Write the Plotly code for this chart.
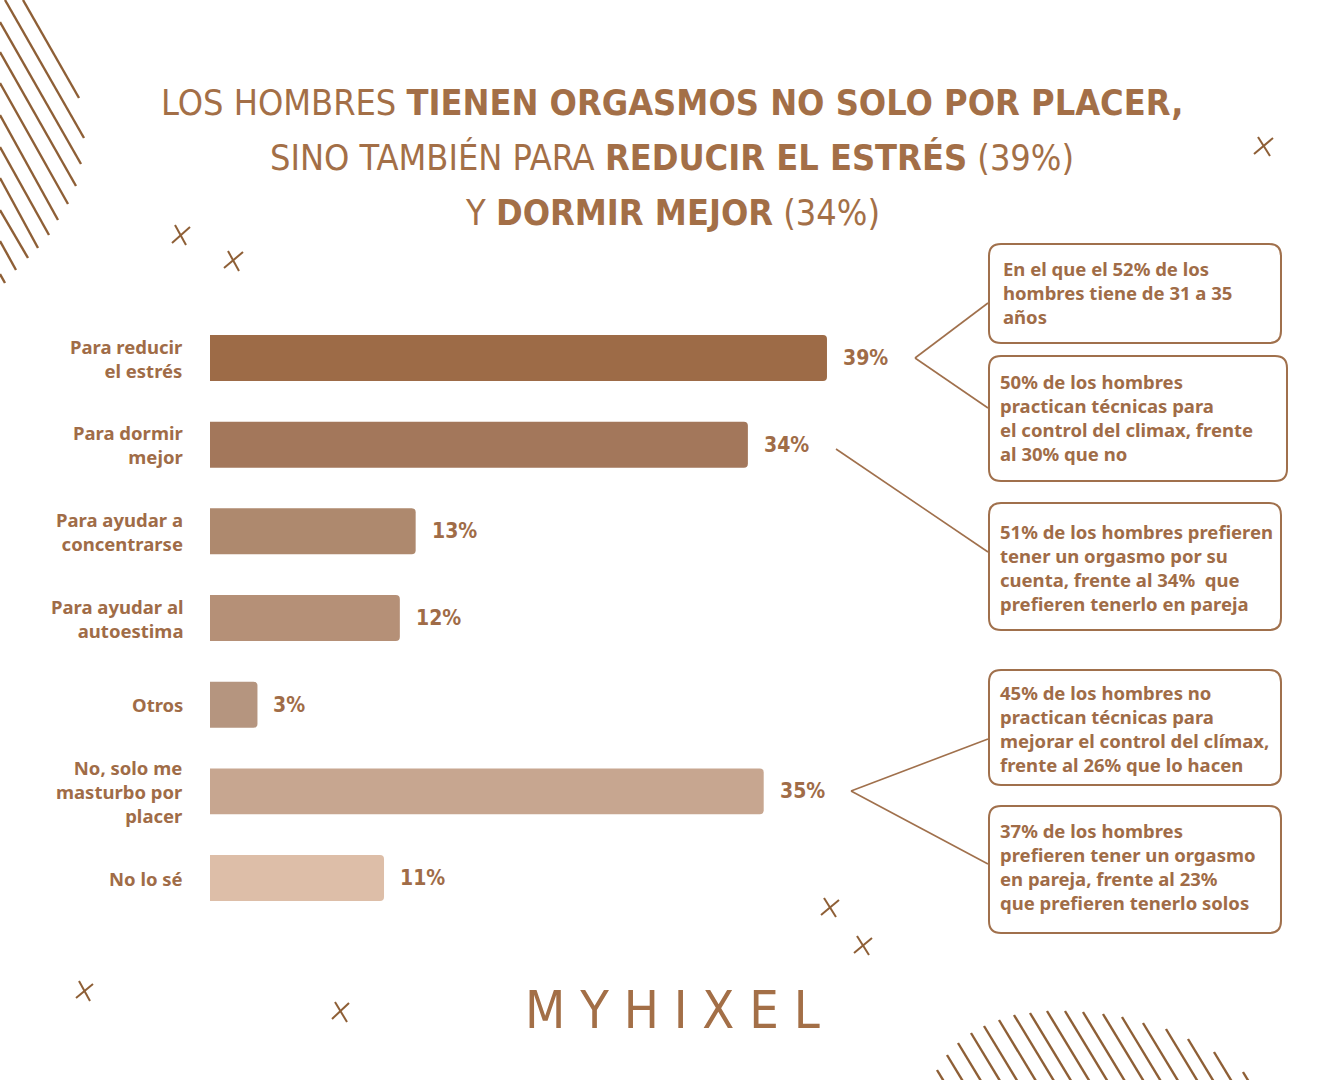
import plotly.graph_objects as go

W, H = 1343, 1080

# ---------------- data ----------------
categories = [
    "Para reducir<br>el estrés",
    "Para dormir<br>mejor",
    "Para ayudar a<br>concentrarse",
    "Para ayudar al<br>autoestima",
    "Otros",
    "No, solo me<br>masturbo por<br>placer",
    "No lo sé",
]
values = [39, 34, 13, 12, 3, 35, 11]
value_labels = ["39%", "34%", "13%", "12%", "3%", "35%", "11%"]
bar_colors = ["#9D6B47", "#A3775B", "#AE896E", "#B59077", "#B5957F", "#C7A690", "#DDBEA8"]

box_texts = [
    "En el que el 52% de los<br>hombres tiene de 31 a 35<br>años",
    "50% de los hombres<br>practican técnicas para<br>el control del climax, frente<br>al 30% que no",
    "51% de los hombres prefieren<br>tener un orgasmo por su<br>cuenta, frente al 34%  que<br>prefieren tenerlo en pareja",
    "45% de los hombres no<br>practican técnicas para<br>mejorar el control del clímax,<br>frente al 26% que lo hacen",
    "37% de los hombres<br>prefieren tener un orgasmo<br>en pareja, frente al 23%<br>que prefieren tenerlo solos",
]

title_lines = [
    "LOS HOMBRES <b>TIENEN ORGASMOS NO SOLO POR PLACER,</b>",
    "SINO TAMBIÉN PARA <b>REDUCIR EL ESTRÉS</b> (39%)",
    "Y <b>DORMIR MEJOR</b> (34%)",
]
brand = "M Y H I X E L"

# ---------------- style ----------------
TXT = "#A06C47"
LINE = "#A0704C"
DECO = "#8E5F36"
COND = "DejaVu Sans Condensed, Liberation Sans Narrow, sans-serif"
BODY = "Noto Sans, Roboto, sans-serif"


def px(x):
    return x / W


def py(y):
    return 1 - y / H


# scale: bars start at 210px, 15.82 px per percentage point
X0, SCALE = 210, 15.82
Y0, STEP = 358, 86.67
xrange = [-X0 / SCALE, (W - X0) / SCALE]
yrange = [(H - Y0) / STEP, -Y0 / STEP]

ypos = list(range(len(categories)))

fig = go.Figure()
fig.add_trace(go.Bar(
    x=values, y=ypos, orientation="h",
    marker=dict(color=bar_colors, line=dict(width=0)),
    width=0.53, hoverinfo="skip",
))

annotations = []
shapes = []

# category labels
for i, c in enumerate(categories):
    annotations.append(dict(
        x=px(185), xref="paper", y=i, yref="y", text=c, showarrow=False,
        xanchor="right", yanchor="middle", align="right",
        font=dict(family=BODY, size=18.5, color=TXT, weight="bold"),
    ))

# value labels
for i, (v, t) in enumerate(zip(values, value_labels)):
    annotations.append(dict(
        x=v, xref="x", y=i, yref="y", text=t, showarrow=False,
        xanchor="left", yanchor="middle", xshift=14,
        font=dict(family=COND, size=21, color=TXT, weight="bold"),
    ))

# title
for t, yy in zip(title_lines, [102, 158, 213]):
    annotations.append(dict(
        x=px(672), y=py(yy), xref="paper", yref="paper", text=t, showarrow=False,
        xanchor="center", yanchor="middle",
        font=dict(family=COND, size=35.8, color="#A36F47"),
    ))

# brand
annotations.append(dict(
    x=px(672), y=py(1010), xref="paper", yref="paper", text=brand, showarrow=False,
    xanchor="center", yanchor="middle",
    font=dict(family=COND, size=52, color="#A36F47"),
))

# boxes
boxes = [
    (989, 244, 1281, 343, 1001, 292.5),
    (989, 356, 1287, 481, 998, 417.5),
    (989, 503, 1281, 630, 998, 567.5),
    (989, 670, 1281, 785, 998, 728.5),
    (989, 806, 1281, 933, 998, 866.5),
]


def rrect(x0, y0, x1, y1, r=12):
    pts = [
        ("M", (x0 + r, y0)), ("L", (x1 - r, y0)), ("Q", (x1, y0), (x1, y0 + r)),
        ("L", (x1, y1 - r)), ("Q", (x1, y1), (x1 - r, y1)),
        ("L", (x0 + r, y1)), ("Q", (x0, y1), (x0, y1 - r)),
        ("L", (x0, y0 + r)), ("Q", (x0, y0), (x0 + r, y0)),
    ]
    s = ""
    for p in pts:
        cmd = p[0]
        coords = " ".join(f"{px(a):.5f},{py(b):.5f}" for a, b in p[1:])
        s += f"{cmd} {coords} "
    return s + "Z"


for (x0, y0, x1, y1, tx, ty), t in zip(boxes, box_texts):
    shapes.append(dict(type="path", xref="paper", yref="paper", path=rrect(x0, y0, x1, y1),
                       line=dict(color=LINE, width=2), fillcolor="rgba(0,0,0,0)"))
    annotations.append(dict(
        x=px(tx), y=py(ty), xref="paper", yref="paper", text=t, showarrow=False,
        xanchor="left", yanchor="middle", align="left",
        font=dict(family=BODY, size=18.5, color=TXT, weight="bold"),
    ))

# connectors
connectors = [
    ((915, 358), (988, 303)), ((915, 358), (988, 408)),
    ((836, 449), (988, 552)),
    ((851, 791), (988, 739)), ((851, 791), (988, 864)),
]
for (a, b) in connectors:
    shapes.append(dict(type="line", xref="paper", yref="paper",
                       x0=px(a[0]), y0=py(a[1]), x1=px(b[0]), y1=py(b[1]),
                       line=dict(color=LINE, width=1.6)))

# decorative top-left lines
tl = [((23, 0), (79, 98)), ((5, 0), (84, 138)), ((0, 22), (81, 164)), ((0, 52), (76, 186)),
      ((0, 83), (68, 204)), ((0, 115), (58, 220)), ((0, 147), (49, 235)), ((0, 178), (38, 248)),
      ((0, 210), (28, 258)), ((0, 241), (16, 270)), ((0, 274), (5, 283))]
for (a, b) in tl:
    shapes.append(dict(type="line", xref="paper", yref="paper",
                       x0=px(a[0]), y0=py(a[1]), x1=px(b[0]), y1=py(b[1]),
                       line=dict(color=DECO, width=2.4)))

# decorative bottom-right hatch
tops = [(937, 1070), (947, 1055), (958, 1043), (971, 1033), (984, 1026), (999, 1020), (1014, 1015),
        (1030, 1013), (1047, 1011), (1065, 1011), (1083, 1012), (1103, 1014), (1122, 1017),
        (1143, 1023), (1166, 1029), (1188, 1039), (1214, 1052), (1243, 1072)]
for (xt, yt) in tops:
    xb = xt + (1082 - yt) / 1.65
    shapes.append(dict(type="line", xref="paper", yref="paper",
                       x0=px(xt), y0=py(yt), x1=px(xb), y1=py(1082),
                       line=dict(color=DECO, width=2.4)))

# decorative crosses
crosses = [
    [((172, 243), (190, 227)), ((175, 225), (186, 245))],
    [((224, 268), (243, 252)), ((228, 251), (239, 271))],
    [((1254, 154), (1273, 138)), ((1258, 137), (1270, 156))],
    [((76, 998), (93, 984)), ((79, 981), (90, 1001))],
    [((332, 1019), (349, 1003)), ((335, 1002), (347, 1022))],
    [((821, 915), (839, 900)), ((824, 898), (836, 917))],
    [((854, 953), (872, 938)), ((857, 936), (869, 955))],
]
for cr in crosses:
    for (a, b) in cr:
        shapes.append(dict(type="line", xref="paper", yref="paper",
                           x0=px(a[0]), y0=py(a[1]), x1=px(b[0]), y1=py(b[1]),
                           line=dict(color=DECO, width=2)))

fig.update_layout(
    width=W, height=H,
    margin=dict(l=0, r=0, t=0, b=0),
    paper_bgcolor="white", plot_bgcolor="white",
    showlegend=False, barcornerradius=4,
    xaxis=dict(range=xrange, visible=False, showgrid=False, zeroline=False, fixedrange=True),
    yaxis=dict(range=yrange, visible=False, showgrid=False, zeroline=False, fixedrange=True),
    annotations=annotations, shapes=shapes,
)

fig.write_html("out.html", config={"displayModeBar": False},
               post_script="document.body.style.margin='0';document.body.style.overflow='hidden';")
